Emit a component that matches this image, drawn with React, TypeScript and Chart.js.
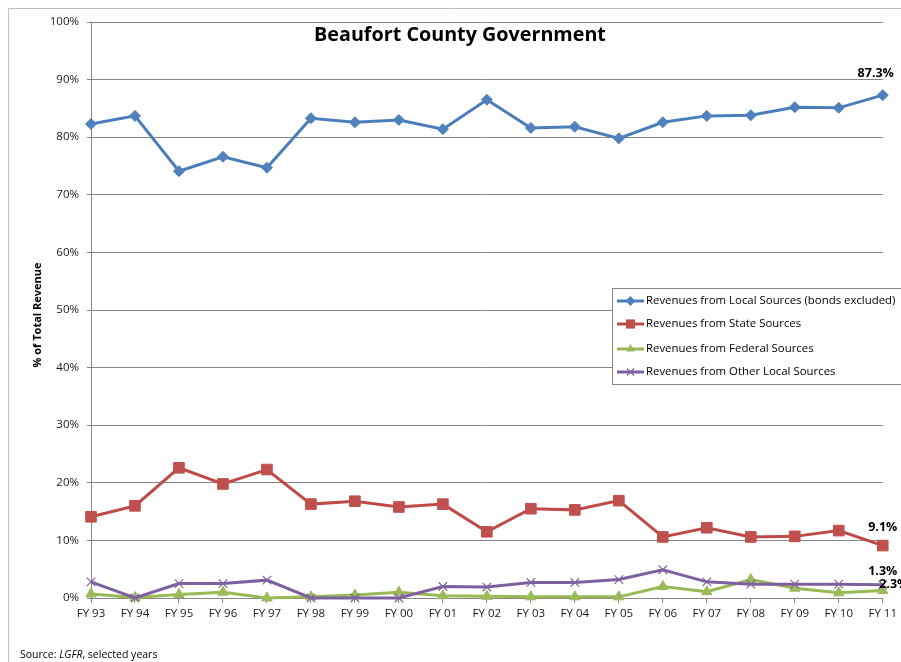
import React, { useEffect, useRef } from "react";
import { Chart, registerables } from "chart.js";

Chart.register(...registerables);

const categories = [
  "FY 93", "FY 94", "FY 95", "FY 96", "FY 97", "FY 98", "FY 99", "FY 00", "FY 01", "FY 02",
  "FY 03", "FY 04", "FY 05", "FY 06", "FY 07", "FY 08", "FY 09", "FY 10", "FY 11",
];
const localSources = [82.3, 83.7, 74.1, 76.6, 74.7, 83.3, 82.6, 83.0, 81.4, 86.5, 81.6, 81.8, 79.8, 82.6, 83.7, 83.8, 85.2, 85.1, 87.3];
const stateSources = [14.1, 16.0, 22.6, 19.8, 22.3, 16.3, 16.8, 15.8, 16.3, 11.5, 15.5, 15.3, 16.9, 10.6, 12.2, 10.6, 10.7, 11.7, 9.1];
const federalSources = [0.7, 0.1, 0.6, 1.0, 0.0, 0.2, 0.5, 1.0, 0.4, 0.3, 0.2, 0.2, 0.2, 2.0, 1.1, 3.2, 1.7, 0.9, 1.3];
const otherLocalSources = [2.8, 0.0, 2.5, 2.5, 3.1, 0.0, 0.0, 0.0, 2.0, 1.9, 2.7, 2.7, 3.2, 4.9, 2.8, 2.4, 2.4, 2.4, 2.3];
const seriesNames = [
  "Revenues from Local Sources (bonds excluded)",
  "Revenues from State Sources",
  "Revenues from Federal Sources",
  "Revenues from Other Local Sources",
];
const yTicks = [0, 10, 20, 30, 40, 50, 60, 70, 80, 90, 100];
const titleText = "Beaufort County Government";
const yAxisTitle = "% of Total Revenue";

const FONT = "'Open Sans', 'Noto Sans', sans-serif";
const colors = ["#4A7EBB", "#BE4B48", "#98B954", "#7D60A0"];
const markerColors = ["#4F81BD", "#C0504D", "#9BBB59", "#8064A2"];
const pointStyles = ["rectRot", "rect", "triangle", "crossRot"];
const pointRadii = [5.5, 7.5, 6, 6];

function drawMarker(ctx: CanvasRenderingContext2D, style: string, x: number, y: number, r: number, color: string) {
  ctx.save();
  ctx.fillStyle = color;
  ctx.strokeStyle = color;
  ctx.beginPath();
  if (style === "rectRot") {
    ctx.moveTo(x, y - r); ctx.lineTo(x + r, y); ctx.lineTo(x, y + r); ctx.lineTo(x - r, y); ctx.closePath(); ctx.fill();
  } else if (style === "rect") {
    const s = r * Math.SQRT1_2;
    ctx.rect(x - s, y - s, 2 * s, 2 * s); ctx.fill();
  } else if (style === "triangle") {
    ctx.moveTo(x, y - r); ctx.lineTo(x + r * 0.87, y + r * 0.5); ctx.lineTo(x - r * 0.87, y + r * 0.5); ctx.closePath(); ctx.fill();
  } else {
    const s = r * Math.SQRT1_2;
    ctx.lineWidth = 1.2;
    ctx.moveTo(x - s, y - s); ctx.lineTo(x + s, y + s);
    ctx.moveTo(x + s, y - s); ctx.lineTo(x - s, y + s); ctx.stroke();
  }
  ctx.restore();
}

const decorPlugin = {
  id: "decor",
  beforeDraw(chart: any) {
    const ctx = chart.ctx as CanvasRenderingContext2D;
    ctx.save();
    ctx.fillStyle = "#ffffff";
    ctx.fillRect(0, 0, chart.width, chart.height);
    ctx.strokeStyle = "#BFBFBF";
    ctx.lineWidth = 1;
    ctx.beginPath();
    ctx.moveTo(8.5, chart.height);
    ctx.lineTo(8.5, 8.5);
    ctx.lineTo(chart.width, 8.5);
    ctx.stroke();
    ctx.restore();
  },
  afterDraw(chart: any) {
    const ctx = chart.ctx as CanvasRenderingContext2D;
    const area = chart.chartArea;
    ctx.save();
    // title
    ctx.fillStyle = "#000";
    ctx.font = `bold 20px ${FONT}`;
    const w20 = ctx.measureText(titleText).width;
    const size = Math.min(20, (20 * 292) / w20);
    ctx.font = `bold ${size}px ${FONT}`;
    ctx.textAlign = "center";
    ctx.textBaseline = "middle";
    ctx.fillText(titleText, 460, 35);

    // y axis title
    ctx.save();
    ctx.translate(38, (area.top + area.bottom) / 2 + 5);
    ctx.rotate(-Math.PI / 2);
    ctx.font = `bold 11px ${FONT}`;
    ctx.fillText(yAxisTitle, 0, 0);
    ctx.restore();

    // data labels on last points
    const yScale = chart.scales.y;
    const xScale = chart.scales.x;
    const last = categories.length - 1;
    const labels = [
      { v: localSources[last], dx: -7, dy: -22 },
      { v: stateSources[last], dx: 0, dy: -18 },
      { v: federalSources[last], dx: 0, dy: -19 },
      { v: otherLocalSources[last], dx: 11, dy: -0.5 },
    ];
    const lastX = xScale.getPixelForValue(last);
    ctx.font = `bold 12.5px ${FONT}`;
    labels.forEach((l) => {
      ctx.fillText(`${l.v.toFixed(1)}%`, lastX + l.dx, yScale.getPixelForValue(l.v) + l.dy);
    });

    // legend
    const lx = 612.5, ly = 288.5, lw = 300, lh = 96;
    ctx.fillStyle = "#fff";
    ctx.fillRect(lx, ly, lw, lh);
    ctx.strokeStyle = "#888";
    ctx.lineWidth = 1;
    ctx.strokeRect(lx, ly, lw, lh);
    const rowY = [301, 324, 349, 372];
    ctx.font = `11.4px ${FONT}`;
    ctx.textAlign = "left";
    seriesNames.forEach((name, i) => {
      const y = rowY[i];
      ctx.strokeStyle = colors[i];
      ctx.lineWidth = 3;
      ctx.beginPath();
      ctx.moveTo(617, y);
      ctx.lineTo(644, y);
      ctx.stroke();
      drawMarker(ctx, pointStyles[i], 630.5, y, i === 1 ? 6.5 : 5, markerColors[i]);
      ctx.fillStyle = "#000";
      ctx.fillText(name, 646, y);
    });

    // source note
    ctx.fillStyle = "#000";
    ctx.font = `10.5px ${FONT}`;
    let sx = 20;
    const sy = 655;
    const p1 = "Source: ";
    ctx.fillText(p1, sx, sy);
    sx += ctx.measureText(p1).width;
    ctx.font = `italic 10.5px ${FONT}`;
    ctx.fillText("LGFR", sx, sy);
    sx += ctx.measureText("LGFR").width;
    ctx.font = `10.5px ${FONT}`;
    ctx.fillText(", selected years", sx, sy);
    ctx.restore();
  },
};

export default function App() {
  const ref = useRef<HTMLCanvasElement | null>(null);
  useEffect(() => {
    if (!ref.current) return;
    const series = [localSources, stateSources, federalSources, otherLocalSources];
    const chart = new Chart(ref.current, {
      type: "line",
      data: {
        labels: categories,
        datasets: series.map((d, i) => ({
          label: seriesNames[i],
          data: d,
          borderColor: colors[i],
          backgroundColor: markerColors[i],
          borderWidth: 3,
          pointStyle: pointStyles[i] as any,
          pointRadius: pointRadii[i],
          pointBorderWidth: i === 3 ? 1.2 : 1,
          pointBorderColor: markerColors[i],
          pointBackgroundColor: markerColors[i],
          tension: 0,
          order: 4 - i,
          clip: false as any,
        })),
      },
      options: {
        animation: false,
        responsive: false,
        maintainAspectRatio: false,
        devicePixelRatio: 1,
        layout: { padding: { top: 22, right: 18, left: 0, bottom: 0 } },
        plugins: { legend: { display: false }, tooltip: { enabled: false }, title: { display: false } },
        scales: {
          x: {
            type: "category",
            offset: false,
            grid: { display: true, drawOnChartArea: false, drawTicks: true, tickLength: 5, color: "#868686" },
            border: { display: true, color: "#868686" },
            ticks: { font: { family: FONT, size: 11.5 }, color: "#1a1a1a", padding: 4, maxRotation: 0, autoSkip: false },
            afterFit(scale: any) { scale.height = 64; },
          },
          y: {
            min: 0,
            max: 100,
            afterBuildTicks(scale: any) { scale.ticks = yTicks.map((v) => ({ value: v })); },
            grid: { color: "#868686", tickLength: 4, lineWidth: 1 },
            border: { display: true, color: "#868686" },
            ticks: { font: { family: FONT, size: 11.5 }, color: "#1a1a1a", padding: 8, callback: (v: any) => `${v}%` },
            afterFit(scale: any) { scale.width = 91; },
          },
        },
      },
      plugins: [decorPlugin],
    });
    return () => chart.destroy();
  }, []);
  return (
    <div style={{ position: "absolute", left: 0, top: 0, width: 901, height: 662 }}>
      <canvas ref={ref} width={901} height={662} style={{ display: "block", width: 901, height: 662 }} />
    </div>
  );
}
